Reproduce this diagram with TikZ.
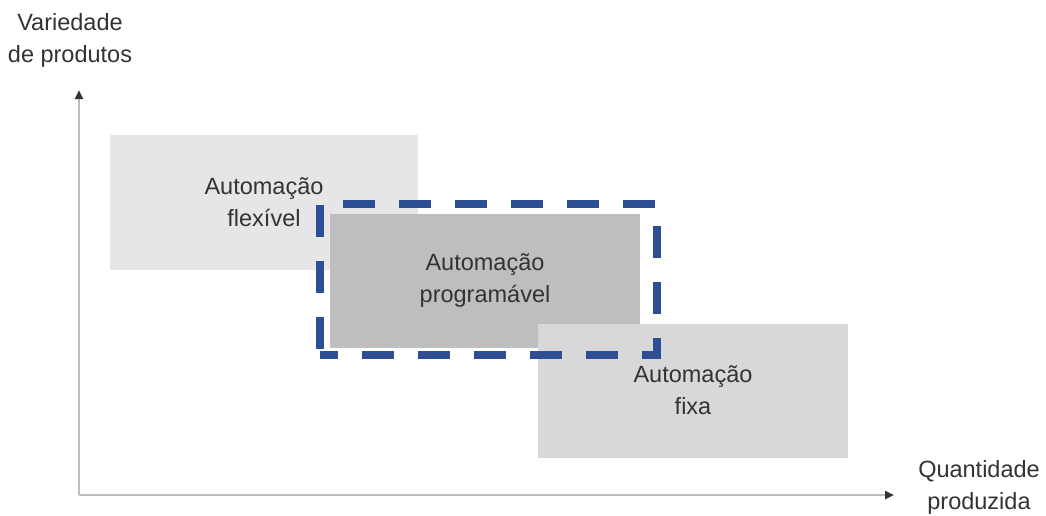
\documentclass[tikz,border=0pt]{standalone}
\usepackage{fontspec}
\setmainfont{Liberation Sans}
\usetikzlibrary{arrows.meta}
\definecolor{flexgray}{HTML}{E6E6E8}
\definecolor{proggray}{HTML}{BEBEC0}
\definecolor{fixgray}{HTML}{D8D8DA}
\definecolor{selblue}{HTML}{2C4F94}
\definecolor{txtgray}{HTML}{333333}
\definecolor{axisgray}{HTML}{BDBDBD}
\begin{document}
\begin{tikzpicture}[x=1pt,y=-1pt,
  every node/.style={font=\fontsize{23.5}{32}\selectfont, text=txtgray, inner sep=0pt, align=center},
  area/.style={minimum width=308pt, minimum height=135pt},
  selbox/.style={draw=selblue, line width=8pt, dash pattern=on 32pt off 24pt, dash phase=14pt, minimum width=337pt, minimum height=151pt},
  axis/.style={draw=axisgray, line width=2.5pt, -{Triangle[length=9pt,width=8pt,color=black!80]}}
]
\useasboundingbox[fill=white] (0,0) rectangle (1046,515);
\node[area, fill=flexgray] (flex) at (264,202.5) {Automação\\flexível};
\node[area, fill=proggray, minimum width=310pt, minimum height=134pt] (prog) at (485,281) {Automação\\programável};
\node[area, fill=fixgray, minimum width=310pt, minimum height=134pt] (fix) at (693,390.5) {Automação\\fixa};
\node[selbox] (sel) at (488.5,279.5) {};
\coordinate (o) at (79,495);
\coordinate (ytop) at (79,90);
\coordinate (xend) at (894,495);
\draw[axis] (o) -- (ytop);
\draw[axis] (o) -- (xend);
\node (ylab) at (70,40) {Variedade\\de produtos};
\node (xlab) at (979,487) {Quantidade\\produzida};
\end{tikzpicture}
\end{document}
